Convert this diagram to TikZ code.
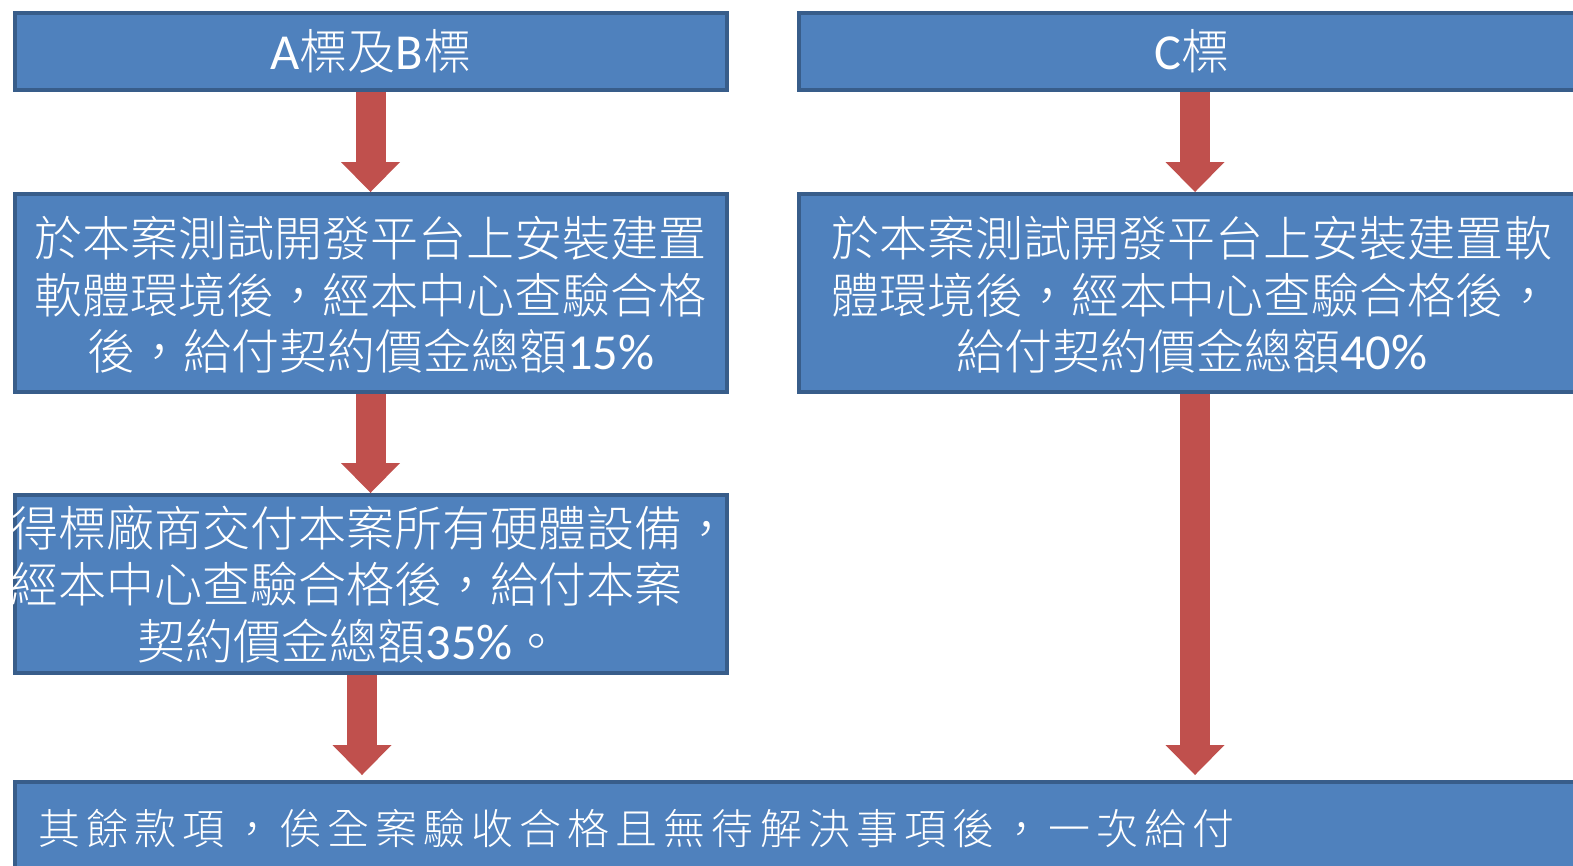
\documentclass[tikz,border=0pt]{standalone}
\usepackage{fontspec}
\setmainfont{Noto Sans CJK TC}[UprightFont=* Light]
\newfontfamily\lat[Scale=1.05]{Carlito}
\usetikzlibrary{arrows.meta}
\definecolor{boxfill}{HTML}{4F81BD}
\definecolor{boxline}{HTML}{385D8A}
\definecolor{arrowred}{HTML}{C0504D}

\begin{document}
\begin{tikzpicture}[line cap=butt,line join=miter,x=1cm,y=1cm,
        box/.style={draw=boxline, line width=1.1pt, fill=boxfill, inner sep=0pt, anchor=north west},
        boxtext/.style={text=white, inner sep=0pt, align=center, font=\fontsize{13.66pt}{16.1pt}\selectfont},
        flow/.style={draw=arrowred, line width=0.30cm,
            -{Triangle[width=0.59cm,length=0.30cm,line width=0pt]}}]
                \useasboundingbox (0,0) rectangle (15.73,-8.65);
                \clip (0,0) rectangle (15.73,-8.65);
                % boxes
                \node [box, minimum width=7.12cm, minimum height=0.77cm] (ab) at (0.13,-0.11) {};
                \node [box, minimum width=7.86cm, minimum height=0.77cm] (c) at (7.97,-0.11) {};
                \node [box, minimum width=7.12cm, minimum height=1.98cm] (pay15) at (0.13,-1.92) {};
                \node [box, minimum width=7.86cm, minimum height=1.98cm] (pay40) at (7.97,-1.92) {};
                \node [box, minimum width=7.12cm, minimum height=1.78cm] (pay35) at (0.13,-4.93) {};
                \node [box, minimum width=16cm, minimum height=1.0cm] (rest) at (0.13,-7.80) {};
                % texts
                \node [boxtext] (abtxt) at (ab.center) {{\lat A}標及{\lat B}標};
                \node [boxtext] (ctxt) at (c.center) {{\lat C}標};
                \node [boxtext] (pay15txt) at ([yshift=-0.02cm]pay15.center) {於本案測試開發平台上安裝建置\\軟體環境後，經本中心查驗合格\\後，給付契約價金總額{\lat 15\%}};
                \node [boxtext] (pay40txt) at ([yshift=-0.02cm]pay40.center) {於本案測試開發平台上安裝建置軟\\體環境後，經本中心查驗合格後，\\給付契約價金總額{\lat 40\%}};
                \node [boxtext, align=left, anchor=west] (pay35txt) at (0.10,-5.84) {得標廠商交付本案所有硬體設備，\\經本中心查驗合格後，給付本案\\\hspace*{1.27cm}契約價金總額{\lat 35\%}。};
                \node [boxtext, anchor=west, font=\fontsize{11.95pt}{14pt}\selectfont\addfontfeatures{LetterSpace=14.5}] (resttxt) at (0.38,-8.28) {其餘款項，俟全案驗收合格且無待解決事項後，一次給付};
                % arrows
                \coordinate (lx) at (3.705,0);
                \coordinate (rx) at (11.95,0);
                \coordinate (bx) at (3.62,0);
                \draw [flow] (ab.south -| lx) -- (pay15.north -| lx);
                \draw [flow] (pay15.south -| lx) -- (pay35.north -| lx);
                \draw [flow] (pay35.south -| bx) -- ([yshift=0.05cm]rest.north -| bx);
                \draw [flow] (c.south -| rx) -- (pay40.north -| rx);
                \draw [flow] (pay40.south -| rx) -- ([yshift=0.05cm]rest.north -| rx);
            \end{tikzpicture}
\end{document}
